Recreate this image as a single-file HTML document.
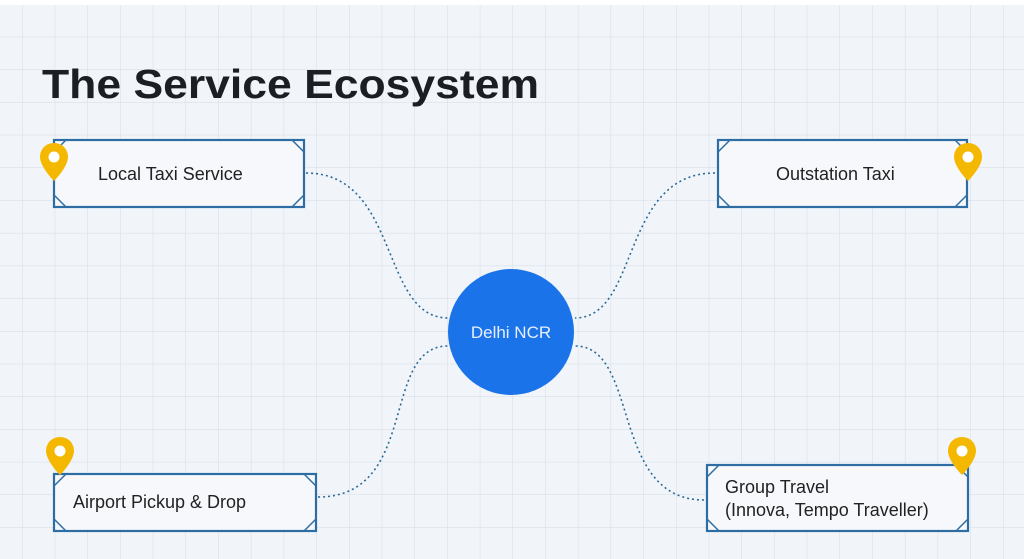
<!DOCTYPE html>
<html><head><meta charset="utf-8"><style>
html,body{margin:0;padding:0;background:#f1f5f9;}
svg{display:block}
text{font-family:"Liberation Sans",sans-serif;}
</style></head><body>
<svg width="1024" height="559" viewBox="0 0 1024 559" xmlns="http://www.w3.org/2000/svg">
<defs>
<pattern id="g" x="22" y="4" width="32.7" height="32.7" patternUnits="userSpaceOnUse">
<path d="M0 0V32.7M0 0H32.7" stroke="#d3dce6" stroke-width="1" fill="none"/>
</pattern>
<g id="pin"><path d="M0 0c-8 0-14 6-14 14c0 10 14 24 14 24s14-14 14-24c0-8-6-14-14-14z" fill="#f5b800"/><circle cx="0" cy="14" r="5.5" fill="#fff"/></g>
</defs>
<rect width="1024" height="559" fill="#f1f5f9"/>
<rect width="1024" height="559" fill="url(#g)"/>
<rect width="1024" height="5" fill="#fff"/>
<text x="42" y="98" font-size="41" font-weight="bold" fill="#1b1f24" textLength="497" lengthAdjust="spacingAndGlyphs">The Service Ecosystem</text>
<g fill="none" stroke="#2b6a9a" stroke-width="1.6" stroke-dasharray="2 3">
<path d="M306 173C400 173 380 318 448 318"/>
<path d="M715 173C620 173 640 318 575 318"/>
<path d="M318 497C420 497 380 346 448 346"/>
<path d="M704 500C610 500 640 346 575 346"/>
</g>
<g fill="#f6f8fb" stroke="#2e6da4" stroke-width="2.2">
<rect x="54" y="140" width="250" height="67"/>
<rect x="718" y="140" width="249" height="67"/>
<rect x="54" y="474" width="262" height="57"/>
<rect x="707" y="465" width="261" height="66"/>
</g>
<g stroke="#2e6da4" stroke-width="1.5">
<path d="M54 152L66 140M54 195L66 207M292 140L304 152M292 207L304 195"/>
<path d="M718 152L730 140M718 195L730 207M955 140L967 152M955 207L967 195"/>
<path d="M54 486L66 474M54 519L66 531M304 474L316 486M304 531L316 519"/>
<path d="M707 477L719 465M707 519L719 531M956 465L968 477M956 531L968 519"/>
</g>
<g font-size="18" fill="#222">
<text x="98" y="180">Local Taxi Service</text>
<text x="776" y="180">Outstation Taxi</text>
<text x="73" y="508">Airport Pickup &amp; Drop</text>
<text x="725" y="493">Group Travel</text>
<text x="725" y="516">(Innova, Tempo Traveller)</text>
</g>
<use href="#pin" x="54" y="143"/>
<use href="#pin" x="968" y="143"/>
<use href="#pin" x="60" y="437"/>
<use href="#pin" x="962" y="437"/>
<circle cx="511" cy="332" r="63" fill="#1a73e8"/>
<text x="511" y="338" font-size="17" fill="#e8f0fe" text-anchor="middle">Delhi NCR</text>
</svg>
</body></html>
